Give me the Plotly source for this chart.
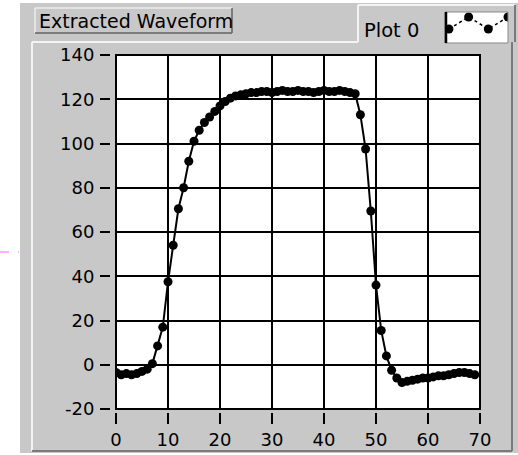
import plotly.graph_objects as go

# ---- data ----
sample_index = list(range(70))
waveform = [
    -3.5, -4.5, -4.0, -4.5, -4.0, -3.0, -2.0, 0.5, 8.5, 17.0,
    37.5, 54.0, 70.5, 80.0, 92.0, 101.0, 106.0, 109.5, 112.0, 114.5,
    117.0, 119.0, 120.5, 121.5, 122.0, 122.5, 123.0, 123.0, 123.5, 123.5,
    123.0, 123.5, 124.0, 123.5, 123.5, 124.0, 123.5, 123.5, 123.0, 123.5,
    124.0, 123.5, 123.5, 124.0, 123.5, 123.0, 122.5, 113.0, 97.5, 69.5,
    36.0, 15.5, 4.0, -2.5, -6.0, -8.0, -7.5, -7.0, -6.5, -6.0,
    -6.0, -5.5, -5.0, -5.0, -4.5, -4.0, -3.5, -3.5, -4.0, -4.5,
]
x_ticks = [0, 10, 20, 30, 40, 50, 60, 70]
y_ticks = [-20, 0, 20, 40, 60, 80, 100, 120, 140]
legend_sample_x = [0, 1, 2, 3]
legend_sample_y = [0, 1, 0, 1]

W, H = 518, 455
ML, MR, MT, MB = 110, 8, 4, 43
PW, PH = W - ML - MR, H - MT - MB


def X(p):
    return (p - ML) / PW


def Y(p):
    return (H - MB - p) / PH


GRAY = "#c8c8c8"
LIGHT = "#f4f4f4"
DARK = "#7a7a7a"
FONT = "DejaVu Sans"

fig = go.Figure()
fig.add_trace(go.Scatter(
    x=sample_index, y=waveform, mode="lines+markers",
    line=dict(color="black", width=2),
    marker=dict(color="black", size=9),
    showlegend=False, hoverinfo="skip",
))
fig.add_trace(go.Scatter(
    x=legend_sample_x, y=legend_sample_y, mode="lines+markers",
    line=dict(color="black", width=1.5, dash="dot"),
    marker=dict(color="black", size=9),
    xaxis="x2", yaxis="y2", showlegend=False, hoverinfo="skip",
))

shapes = []


def line(x0, y0, x1, y1, color, width=2, dash=None, layer="above"):
    d = dict(type="line", xref="paper", yref="paper",
             x0=X(x0), y0=Y(y0), x1=X(x1), y1=Y(y1),
             line=dict(color=color, width=width), layer=layer)
    if dash:
        d["line"]["dash"] = dash
    shapes.append(d)


def rect(x0, y0, x1, y1, fill, color=None, width=0, layer="above"):
    shapes.append(dict(type="rect", xref="paper", yref="paper",
                       x0=X(x0), y0=Y(y0), x1=X(x1), y1=Y(y1),
                       fillcolor=fill,
                       line=dict(color=color or fill, width=width),
                       layer=layer))


# white outside strips
rect(0, 0, 20, H, "white")
rect(0, 0, W, 3, "white")
rect(0, 453, W, H, "white")
line(0, 252, 19, 252, "#ff66ff", 1, dash="dash")

# panel bevels
line(32, 42, 32, 451, LIGHT, 2)
line(32, 42, 358, 42, LIGHT, 2)
line(32, 451, 512, 451, DARK, 2)
line(512, 42, 512, 451, DARK, 2)
# legend tab
line(358, 5, 358, 42, LIGHT, 2)
line(358, 5, 515, 5, LIGHT, 2)
line(515, 5, 515, 42, DARK, 2)

# title box
rect(35, 8, 232, 33, GRAY, "#9a9a9a", 1)
line(35, 8, 232, 8, LIGHT, 1.5)
line(35, 8, 35, 33, LIGHT, 1.5)
line(35, 33, 232, 33, "#6a6a6a", 1.5)
line(232, 8, 232, 33, "#6a6a6a", 1.5)

# legend mini plot frame
rect(445, 12, 508, 43, "rgba(0,0,0,0)", "#8a8a8a", 1)
line(446, 12, 446, 43, "black", 2.5)

# main plot frame
rect(116, 55, 480, 409, "rgba(0,0,0,0)", "black", 2)

fig.update_layout(
    width=W, height=H,
    margin=dict(l=ML, r=MR, t=MT, b=MB, autoexpand=False),
    paper_bgcolor=GRAY, plot_bgcolor="white",
    font=dict(family=FONT, size=18, color="black"),
    shapes=shapes,
    annotations=[
        dict(text="Extracted Waveform", xref="paper", yref="paper",
             x=X(37), y=Y(21), xanchor="left", yanchor="middle",
             showarrow=False, font=dict(family=FONT, size=19, color="black")),
        dict(text="Plot 0", xref="paper", yref="paper",
             x=X(362), y=Y(30), xanchor="left", yanchor="middle",
             showarrow=False, font=dict(family=FONT, size=19.5, color="black")),
    ],
    xaxis=dict(
        domain=[X(116), X(480)], range=[0, 70], anchor="free", position=0,
        tickvals=x_ticks, ticktext=[str(v) for v in x_ticks],
        ticks="outside", ticklen=11, tickwidth=2, tickcolor="black",
        showline=False, zeroline=False, automargin=False,
        showgrid=True, gridcolor="black", gridwidth=2,
        tickfont=dict(family=FONT, size=18, color="black"),
        fixedrange=True,
    ),
    yaxis=dict(
        domain=[Y(409), Y(55)], range=[-20, 140], anchor="free", position=0,
        tickvals=y_ticks, ticktext=[str(v) for v in y_ticks],
        ticks="outside", ticklen=10, tickwidth=2, tickcolor="black",
        showline=False, zeroline=False, automargin=False,
        showgrid=True, gridcolor="black", gridwidth=2,
        tickfont=dict(family=FONT, size=18, color="black"),
        ticklabelstandoff=2,
        fixedrange=True,
    ),
    xaxis2=dict(domain=[X(445), X(508)], range=[-0.2, 3.0], anchor="y2",
                visible=False, fixedrange=True, automargin=False),
    yaxis2=dict(domain=[Y(43), Y(12)], range=[-1.17, 1.42], anchor="x2",
                visible=False, fixedrange=True, automargin=False),
)

fig.write_html(
    "out.html",
    config={"displayModeBar": False},
    post_script="document.body.style.margin='0';document.body.style.padding='0';",
)
